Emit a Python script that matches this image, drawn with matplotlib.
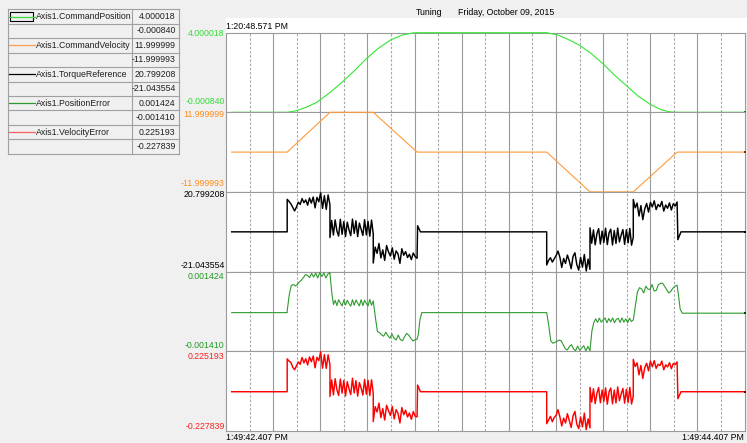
import numpy as np
import matplotlib
matplotlib.use("Agg")
import matplotlib.pyplot as plt
from matplotlib.patches import Rectangle

plt.rcParams['font.family'] = ['Liberation Sans', 'DejaVu Sans']

# ---------------- data ----------------
series_names = ["Axis1.CommandPosition", "Axis1.CommandVelocity", "Axis1.TorqueReference",
                "Axis1.PositionError", "Axis1.VelocityError"]
max_labels = ["4.000018", "11.999999", "20.799208", "0.001424", "0.225193"]
min_labels = ["-0.000840", "-11.999993", "-21.043554", "-0.001410", "-0.227839"]
series_max = [float(s) for s in max_labels]
series_min = [float(s) for s in min_labels]

title_text = "Tuning"
date_text = "Friday, October 09, 2015"
trigger_time = "1:20:48.571 PM"
start_time = "1:49:42.407 PM"
end_time = "1:49:44.407 PM"
time_span = 2.0
n_divisions = 11

# Command position (time s, value)
pos_t = [0.022, 0.236, 0.269, 0.309, 0.350, 0.401, 0.450, 0.496, 0.543, 0.586, 0.633, 0.679,
         0.722, 0.737, 1.237, 1.281, 1.323, 1.362, 1.408, 1.455, 1.500, 1.546, 1.589, 1.636,
         1.678, 1.712, 1.740, 1.998]
pos_v = [-0.00084, -0.00084, 0.07, 0.25, 0.50, 0.99, 1.54, 2.10, 2.71, 3.20, 3.62, 3.88,
         3.99, 4.000018, 4.000018, 3.88, 3.64, 3.38, 2.96, 2.43, 1.85, 1.32, 0.82, 0.40,
         0.13, 0.02, -0.00084, -0.00084]

# Command velocity
vel_t = [0.022, 0.236, 0.401, 0.568, 0.737, 1.237, 1.404, 1.571, 1.740, 1.998]
vel_v = [0.0, 0.0, 11.999999, 11.999999, 0.0, 0.0, -11.999993, -11.999993, 0.0, 0.0]

# motion phases (start, end) in seconds
phases = [(0.236, 0.401), (0.401, 0.568), (0.568, 0.737),
          (1.237, 1.404), (1.404, 1.571), (1.571, 1.740)]

# Torque reference samples per phase
torque_phases = [
    [16.9, 15.8, 14.5, 12.6, 10.8, 12.9, 15.4, 14.2, 17.3, 15.1, 16.6, 13.8, 17.6, 14.9, 18.1,
     12.4, 17.9, 15.6, 20.3, 12.1, 18.8, 11.6, 19.2, 14.0],
    [-3.2, 5.8, -1.9, 6.1, 0.3, -2.4, 6.4, -1.5, 5.2, -2.6, 4.9, 0.8, -2.2, 6.5, -1.0, 5.6,
     -2.7, 4.4, 1.2, -2.1, 6.2, -1.8, 5.3, -2.5, 6.0, -1.2],
    [-16.6, -8.2, -11.5, -6.3, -13.9, -9.7, -15.2, -7.4, -10.8, -12.9, -8.6, -14.6, -10.2,
     -11.8, -16.8, -9.1, -12.5, -10.6, -13.7, -12.0, -14.8, -11.3, -13.2, -14.1],
    [-17.6, -15.2, -13.8, -16.1, -14.4, -12.7, -10.3, -13.5, -18.9, -14.2, -16.8, -12.4, -15.5,
     -19.6, -13.1, -11.2, -17.4, -20.3, -13.6, -18.8, -12.1, -20.8, -14.5, -19.9],
    [1.9, -6.2, 0.8, -7.0, -1.2, 1.5, -6.6, 0.2, -5.8, 1.7, -6.9, -0.8, 1.2, -7.1, 0.5, -6.3,
     1.8, -5.5, -1.9, 1.0, -6.8, 0.9, -6.0, 1.6, -7.2, -3.0],
    [16.8, 12.4, 14.9, 8.1, 13.6, 6.2, 11.8, 14.7, 10.2, 15.3, 12.9, 16.1, 11.5, 14.2, 13.0,
     15.8, 10.7, 13.9, 12.2, 15.0, 11.3, 14.6, 13.4, 15.5],
]
torque_rest = -0.2
torque_settle1_t = [0.739, 0.750, 1.237]
torque_settle1_v = [3.0, -0.2, -0.2]
torque_settle2_t = [1.743, 1.755, 1.998]
torque_settle2_v = [-4.3, -0.2, -0.2]

# Position error samples per phase
perr_phases = [
    [0.000018, 0.000587, 0.000926, 0.000961, 0.000908, 0.000961, 0.001050, 0.001121, 0.001210,
     0.001317, 0.001282, 0.001210, 0.001353, 0.001228, 0.001371, 0.001193, 0.001388, 0.001246,
     0.001371, 0.001193, 0.001335, 0.001388],
    [0.001350, 0.000700, 0.000250, 0.000400, 0.000210, 0.000420, 0.000300, 0.000200, 0.000410,
     0.000230, 0.000400, 0.000280, 0.000190, 0.000420, 0.000220, 0.000410, 0.000300, 0.000200,
     0.000420, 0.000210, 0.000400, 0.000290, 0.000200, 0.000430, 0.000220, 0.000380],
    [0.000380, -0.000200, -0.000719, -0.000750, -0.000830, -0.000880, -0.000740, -0.000860,
     -0.000950, -0.000800, -0.000960, -0.001010, -0.000840, -0.001000, -0.001040, -0.000900,
     -0.000780, -0.000840, -0.000950, -0.001050, -0.001010, -0.000990],
    [-0.000040, -0.000500, -0.001050, -0.001130, -0.001100, -0.001060, -0.001020, -0.001040,
     -0.001180, -0.001330, -0.001370, -0.001250, -0.001180, -0.001330, -0.001400, -0.001230,
     -0.001380, -0.001300, -0.001220, -0.001400, -0.001240, -0.001400],
    [-0.001400, -0.000700, -0.000400, -0.000260, -0.000390, -0.000240, -0.000380, -0.000300,
     -0.000230, -0.000400, -0.000250, -0.000370, -0.000230, -0.000400, -0.000280, -0.000240,
     -0.000390, -0.000230, -0.000380, -0.000260, -0.000400, -0.000240, -0.000360, -0.000300],
    [-0.000300, 0.000200, 0.000700, 0.000850, 0.000800, 0.000660, 0.000900, 0.000800, 0.000780,
     0.000960, 0.000730, 0.000750, 0.000950, 0.001000, 0.001010, 0.000900, 0.000780, 0.000660,
     0.000720, 0.000830, 0.000900, 0.000940],
]
perr_rest = -0.00004
perr_settle1_t = [0.742, 0.748, 0.755, 1.237]
perr_settle1_v = [-0.00080, -0.00030, -0.00004, -0.00004]
perr_settle2_t = [1.745, 1.752, 1.760, 1.998]
perr_settle2_v = [0.00060, 0.00008, -0.00006, -0.00006]

# Velocity error samples per phase
verr_phases = [
    [0.181, 0.168, 0.160, 0.133, 0.119, 0.142, 0.163, 0.150, 0.189, 0.158, 0.182, 0.146, 0.192,
     0.165, 0.197, 0.130, 0.190, 0.171, 0.221, 0.128, 0.205, 0.127, 0.204, 0.148],
    [-0.033, 0.061, -0.024, 0.068, 0.005, -0.027, 0.066, -0.014, 0.058, -0.030, 0.051, 0.011,
     -0.022, 0.071, -0.013, 0.057, -0.031, 0.046, 0.015, -0.025, 0.064, -0.020, 0.059, -0.028,
     0.062, -0.015],
    [-0.176, -0.091, -0.121, -0.071, -0.153, -0.102, -0.167, -0.083, -0.114, -0.141, -0.090,
     -0.161, -0.108, -0.129, -0.184, -0.096, -0.137, -0.111, -0.150, -0.127, -0.163, -0.119,
     -0.146, -0.149],
    [-0.188, -0.167, -0.146, -0.177, -0.153, -0.140, -0.108, -0.149, -0.201, -0.156, -0.184,
     -0.131, -0.170, -0.209, -0.144, -0.118, -0.191, -0.216, -0.150, -0.206, -0.128, -0.222,
     -0.160, -0.212],
    [0.019, -0.065, 0.011, -0.074, -0.015, 0.018, -0.069, 0.004, -0.061, 0.016, -0.077, -0.007,
     0.015, -0.075, 0.003, -0.070, 0.021, -0.057, -0.019, 0.013, -0.071, 0.008, -0.067, 0.019,
     -0.076, -0.030],
    [0.178, 0.137, 0.158, 0.090, 0.144, 0.070, 0.130, 0.156, 0.113, 0.168, 0.136, 0.171, 0.127,
     0.150, 0.143, 0.168, 0.119, 0.147, 0.135, 0.159, 0.125, 0.155, 0.148, 0.164],
]
verr_rest = -0.006
verr_settle1_t = [0.739, 0.750, 1.237]
verr_settle1_v = [0.032, -0.006, -0.006]
verr_settle2_t = [1.743, 1.755, 1.998]
verr_settle2_v = [-0.046, -0.006, -0.006]


def build(ph_vals, rest, s1t, s1v, s2t, s2v):
    t = [0.022, phases[0][0]]
    v = [rest, rest]
    for k in range(3):
        t += list(np.linspace(phases[k][0], phases[k][1], len(ph_vals[k])))
        v += ph_vals[k]
    t += s1t
    v += s1v
    for k in range(3, 6):
        t += list(np.linspace(phases[k][0], phases[k][1], len(ph_vals[k])))
        v += ph_vals[k]
    t += s2t
    v += s2v
    return t, v


torque_t, torque_v = build(torque_phases, torque_rest, torque_settle1_t, torque_settle1_v,
                           torque_settle2_t, torque_settle2_v)
perr_t, perr_v = build(perr_phases, perr_rest, perr_settle1_t, perr_settle1_v,
                       perr_settle2_t, perr_settle2_v)
verr_t, verr_v = build(verr_phases, verr_rest, verr_settle1_t, verr_settle1_v,
                       verr_settle2_t, verr_settle2_v)

series_t = [pos_t, vel_t, torque_t, perr_t, verr_t]
series_v = [pos_v, vel_v, torque_v, perr_v, verr_v]

# ---------------- styling ----------------
line_colors = ['#33e633', '#ff9a3c', '#000000', '#2f9a2f', '#ff0000']
label_colors = ['#33dd33', '#ff8c1a', '#000000', '#229922', '#ff2020']
sample_colors = ['#33dd33', '#ffa050', '#000000', '#2f9a2f', '#ff6060']
end_colors = ['#1a7a1a', '#7a3a00', '#000000', '#0a3a0a', '#7a0000']
grid_c = '#a0a0a0'
fs = 6.3

W, H = 747, 443
fig = plt.figure(figsize=(W / 100, H / 100), dpi=100, facecolor='#f0f0f0')

# background overlay in pixel coordinates
bg = fig.add_axes([0, 0, 1, 1], zorder=-1)
bg.set_xlim(0, W)
bg.set_ylim(H, 0)
bg.axis('off')

bg.add_patch(Rectangle((226, 18), W - 226, 15, facecolor='white', edgecolor='none'))

# header texts
bg.text(416, 12, title_text, fontsize=fs, va='center', ha='left')
bg.text(457.5, 12, date_text, fontsize=fs, va='center', ha='left')
bg.text(226, 26, trigger_time, fontsize=fs, va='center', ha='left')
bg.text(226, 438, start_time, fontsize=fs, va='center', ha='left')
bg.text(744, 438, end_time, fontsize=fs, va='center', ha='right')

# legend table
tx0, tx1, tcol = 8.3, 178.7, 131.7
ty0, rh = 9.3, 14.44
for r in range(10):
    y0 = ty0 + r * rh
    bg.plot([tx0, tx1], [y0, y0], color=grid_c, lw=0.8)
bg.plot([tx0, tx1], [ty0 + 10 * rh] * 2, color=grid_c, lw=0.8)
bg.plot([tx0, tx0], [ty0, ty0 + 10 * rh], color=grid_c, lw=0.8)
bg.plot([tx1, tx1], [ty0, ty0 + 10 * rh], color=grid_c, lw=0.8)
bg.plot([tcol, tcol], [ty0, ty0 + 10 * rh], color=grid_c, lw=0.8)
for i in range(5):
    yc = ty0 + (2 * i + 0.5) * rh
    bg.plot([9, 35], [yc, yc], color=sample_colors[i], lw=0.9)
    bg.text(35.5, yc, series_names[i], fontsize=fs, va='center', ha='left', color='#202020')
    bg.text(175.7, yc, max_labels[i], fontsize=fs, va='center', ha='right', color='#202020')
    bg.text(175.7, yc + rh, min_labels[i], fontsize=fs, va='center', ha='right', color='#202020')
bg.add_patch(Rectangle((10, 11.7), 23.3, 9, facecolor='none', edgecolor='black', lw=0.8))

# side value labels
max_label_y = [33.3, 114.0, 194.3, 276.7, 356.7]
min_label_y = [101.7, 184.0, 265.0, 345.0, 426.7]
for i in range(5):
    bg.text(224.5, max_label_y[i], max_labels[i], fontsize=fs, va='center', ha='right',
            color=label_colors[i])
    bg.text(224.5, min_label_y[i], min_labels[i], fontsize=fs, va='center', ha='right',
            color=label_colors[i])

# stacked bands
left_px, right_px = 226.0, 744.5
top_px, band_h = 32.7, 79.6
div = time_span / n_divisions
major = [div * k for k in range(1, n_divisions)]
minor = [div * (k + 0.5) for k in range(n_divisions)]

for i in range(5):
    btop = top_px + i * band_h
    ax = fig.add_axes([left_px / W, 1 - (btop + band_h) / H, (right_px - left_px) / W, band_h / H])
    ax.set_facecolor('white')
    ax.set_xlim(0, time_span)
    ax.set_ylim(series_min[i], series_max[i])
    ax.set_xticks(major)
    ax.set_xticks(minor, minor=True)
    ax.set_yticks([])
    ax.tick_params(which='both', length=0, labelbottom=False, labelleft=False)
    ax.set_axisbelow(True)
    ax.grid(which='major', axis='x', color='#9a9a9a', lw=0.8)
    ax.grid(which='minor', axis='x', color='#a8a8a8', lw=0.8, ls=(0, (2.2, 1.6)))
    for s in ax.spines.values():
        s.set_color('#9a9a9a')
        s.set_linewidth(0.8)
    lw = 1.05 if i in (2, 4) else 0.8
    ax.plot(series_t[i], series_v[i], color=line_colors[i], lw=lw, clip_on=False, zorder=3)
    ax.plot([time_span], [series_v[i][-1]], marker='s', ms=1.6, color=end_colors[i],
            clip_on=False, zorder=4, mew=0)

fig.savefig('out.png', dpi=100, facecolor=fig.get_facecolor())
